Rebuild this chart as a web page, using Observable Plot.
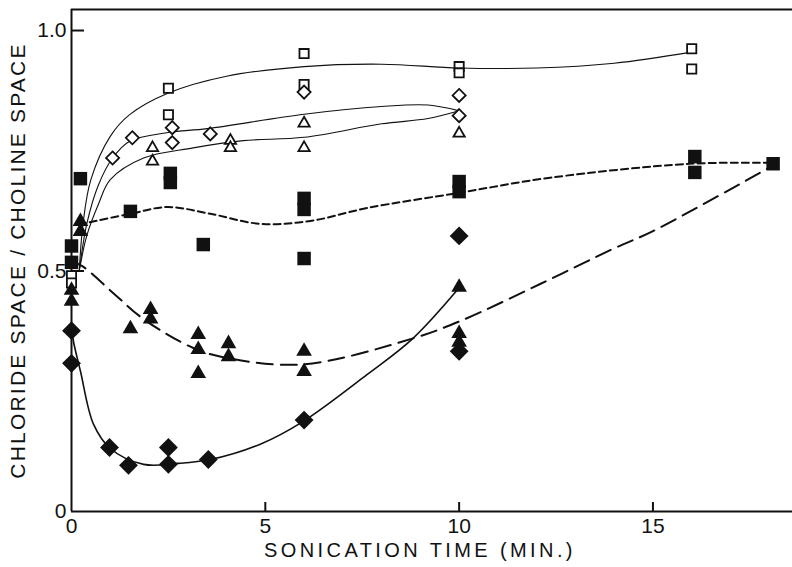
<!DOCTYPE html>
<html>
<head>
<meta charset="utf-8">
<script src="https://cdn.jsdelivr.net/npm/d3@7"></script>
<script src="https://cdn.jsdelivr.net/npm/@observablehq/plot@0.6"></script>
<style>
  html, body { margin: 0; padding: 0; background: #fff; }
  #chart { width: 792px; height: 567px; overflow: hidden; }
</style>
</head>
<body>
<div id="chart"></div>
<script>
// ---- axis text ----
const xTitle = "SONICATION TIME (MIN.)";
const yTitle = "CHLORIDE SPACE / CHOLINE SPACE";
const xTicks = [0, 5, 10, 15];
const xTickLabels = ["0", "5", "10", "15"];
const xTickMarks = [5, 10, 15];
const yTicks = [0, 0.5, 1.0];
const yTickLabels = ["0", "0.5", "1.0"];
const yTickMarks = [0.5, 1.0];
const xMax = 18.6;
const yMax = 1.0437;

// ---- open squares ----
const openSquareX = [0, 0, 2.5, 2.5, 6, 6, 10, 10, 16, 16];
const openSquareY = [0.49, 0.475, 0.88, 0.825, 0.952, 0.888, 0.925, 0.912, 0.962, 0.92];
// ---- open diamonds ----
const openDiamondX = [1.06, 1.57, 2.6, 2.6, 3.58, 6, 10, 10];
const openDiamondY = [0.735, 0.777, 0.798, 0.767, 0.785, 0.872, 0.865, 0.823];
// ---- open triangles ----
const openTriangleX = [2.09, 2.09, 4.1, 4.1, 6, 6, 10];
const openTriangleY = [0.756, 0.728, 0.771, 0.756, 0.807, 0.756, 0.786];
// ---- filled squares ----
const fillSquareX = [0, 0, 0.23, 1.52, 2.55, 2.55, 3.4, 6, 6, 6, 10, 10, 16.08, 16.08, 18.1];
const fillSquareY = [0.552, 0.518, 0.692, 0.624, 0.703, 0.684, 0.555, 0.651, 0.628, 0.526, 0.686, 0.665, 0.738, 0.705, 0.723];
// ---- filled triangles ----
const fillTriangleX = [0.23, 0.23, 0, 0, 1.52, 2.04, 2.04, 3.27, 3.27, 3.27, 4.05, 4.05, 6, 6, 10, 10, 10];
const fillTriangleY = [0.603, 0.582, 0.46, 0.437, 0.38, 0.42, 0.40, 0.368, 0.337, 0.287, 0.349, 0.322, 0.333, 0.291, 0.466, 0.37, 0.352];
// ---- filled diamonds ----
const fillDiamondX = [0, 0, 0.98, 1.47, 2.5, 2.5, 3.53, 6, 10, 10];
const fillDiamondY = [0.376, 0.308, 0.133, 0.096, 0.133, 0.098, 0.108, 0.19, 0.573, 0.333];

// ---- hand-drawn fitted curves ----
const curveOpenSquareX = [0.2, 0.3, 0.5, 1, 1.5, 2.5, 4, 6, 8, 10, 12, 14, 16];
const curveOpenSquareY = [0.50, 0.6, 0.69, 0.78, 0.825, 0.87, 0.905, 0.925, 0.93, 0.922, 0.922, 0.932, 0.955];
const curveOpenDiamondX = [0.2, 0.4, 0.7, 1.06, 1.5, 2.5, 3.5, 6, 8, 9.2, 10];
const curveOpenDiamondY = [0.5, 0.6, 0.68, 0.735, 0.77, 0.788, 0.796, 0.826, 0.842, 0.845, 0.833];
const curveOpenTriangleX = [0.2, 0.4, 0.7, 1, 1.86, 3.14, 4.43, 6, 8, 9.2, 10];
const curveOpenTriangleY = [0.5, 0.575, 0.64, 0.69, 0.735, 0.756, 0.771, 0.778, 0.806, 0.817, 0.833];
const curveFillSquareX = [0.2, 0.41, 1.52, 2.47, 3.58, 4.87, 6.16, 7.63, 10.03, 12.35, 15.95, 17.94];
const curveFillSquareY = [0.595, 0.6, 0.619, 0.633, 0.619, 0.598, 0.604, 0.631, 0.663, 0.694, 0.723, 0.725];
const curveFillTriangleX = [0, 0.28, 1.08, 1.86, 3.14, 4.02, 5.98, 8.81, 10.03, 12.09, 13.97, 15, 18.0];
const curveFillTriangleY = [0.52, 0.51, 0.454, 0.4, 0.34, 0.319, 0.306, 0.36, 0.396, 0.473, 0.546, 0.583, 0.715];
const curveFillDiamondX = [0, 0.05, 0.23, 0.57, 1.0, 1.86, 2.73, 3.58, 4.87, 5.98, 7.63, 8.81, 10.0];
const curveFillDiamondY = [0.385, 0.354, 0.292, 0.181, 0.131, 0.098, 0.1, 0.108, 0.14, 0.1875, 0.285, 0.36, 0.465];

const pts = (xs, ys) => xs.map((x, i) => ({x, y: ys[i]}));
const ink = "#111";
const W = 792, H = 567, mL = 71, mR = 0, mT = 9, mB = 56;
// tick lengths converted from pixels into axis units
const xTickLen = 9 * yMax / (H - mT - mB);   // vertical ticks on the x axis
const yTickLen = 13 * xMax / (W - mL - mR);  // horizontal ticks on the y axis

const chart = Plot.plot({
  width: W,
  height: H,
  marginLeft: mL,
  marginRight: mR,
  marginTop: mT,
  marginBottom: mB,
  x: {domain: [0, xMax], label: null},
  y: {domain: [0, yMax], label: null},
  style: {fontFamily: "'Liberation Sans', Arial, sans-serif", fontSize: "21px", color: ink, background: "#fff", overflow: "visible"},
  marks: [
    // frame: left, bottom, top
    Plot.ruleX([0], {stroke: ink, strokeWidth: 2}),
    Plot.ruleY([0, yMax], {stroke: ink, strokeWidth: 2}),
    // short inward tick marks
    Plot.ruleX(xTickMarks, {x: d => d, y1: () => 0, y2: () => xTickLen, stroke: ink, strokeWidth: 2}),
    Plot.ruleY(yTickMarks, {y: d => d, x1: () => 0, x2: () => yTickLen, stroke: ink, strokeWidth: 2}),
    // tick labels
    Plot.axisX({ticks: xTicks, label: null, tickSize: 0, tickPadding: 7, tickFormat: (d) => xTickLabels[xTicks.indexOf(d)], fontSize: 21, fill: ink}),
    Plot.axisY({ticks: yTicks, label: null, tickSize: 0, tickPadding: 5, tickFormat: (d) => yTickLabels[yTicks.indexOf(d)], fontSize: 21, fill: ink}),
    // titles
    Plot.text([xTitle], {text: d => d, frameAnchor: "bottom", textAnchor: "middle", dy: 45, dx: -12, fontSize: 20, fill: ink}),
    Plot.text([yTitle], {text: d => d, frameAnchor: "left", textAnchor: "middle", dx: -53, rotate: -90, fontSize: 21, fill: ink})
  ].concat([
    // curves
    Plot.line(pts(curveOpenSquareX, curveOpenSquareY), {x: "x", y: "y", curve: "catmull-rom", stroke: ink, strokeWidth: 1.1}),
    Plot.line(pts(curveOpenDiamondX, curveOpenDiamondY), {x: "x", y: "y", curve: "catmull-rom", stroke: ink, strokeWidth: 1.1}),
    Plot.line(pts(curveOpenTriangleX, curveOpenTriangleY), {x: "x", y: "y", curve: "catmull-rom", stroke: ink, strokeWidth: 1.1}),
    Plot.line(pts(curveFillSquareX, curveFillSquareY), {x: "x", y: "y", curve: "catmull-rom", stroke: ink, strokeWidth: 2, strokeDasharray: "7,4"}),
    Plot.line(pts(curveFillTriangleX, curveFillTriangleY), {x: "x", y: "y", curve: "catmull-rom", stroke: ink, strokeWidth: 2, strokeDasharray: "16,8"}),
    Plot.line(pts(curveFillDiamondX, curveFillDiamondY), {x: "x", y: "y", curve: "catmull-rom", stroke: ink, strokeWidth: 1.6}),
    // open symbols
    Plot.dot(pts(openSquareX, openSquareY), {x: "x", y: "y", symbol: "square", r: 5.2, fill: "#fff", stroke: ink, strokeWidth: 1.8}),
    Plot.dot(pts(openDiamondX, openDiamondY), {x: "x", y: "y", symbol: "diamond2", r: 5.9, fill: "#fff", stroke: ink, strokeWidth: 1.8}),
    Plot.dot(pts(openTriangleX, openTriangleY), {x: "x", y: "y", symbol: "triangle", r: 4.2, fill: "#fff", stroke: ink, strokeWidth: 1.8}),
    // filled symbols
    Plot.dot(pts(fillSquareX, fillSquareY), {x: "x", y: "y", symbol: "square", r: 7.6, fill: ink, stroke: "none"}),
    Plot.dot(pts(fillTriangleX, fillTriangleY), {x: "x", y: "y", symbol: "triangle", r: 5.8, fill: ink, stroke: "none"}),
    Plot.dot(pts(fillDiamondX, fillDiamondY), {x: "x", y: "y", symbol: "diamond2", r: 8.5, fill: ink, stroke: "none"})
  ])
});
// widen the hand-lettered titles with letter spacing
d3.select(chart).selectAll("text")
  .filter(function () { return this.textContent === xTitle; })
  .style("letter-spacing", "3.4px");
d3.select(chart).selectAll("text")
  .filter(function () { return this.textContent === yTitle; })
  .style("letter-spacing", "2.2px");
document.getElementById("chart").appendChild(chart);
</script>
</body>
</html>
